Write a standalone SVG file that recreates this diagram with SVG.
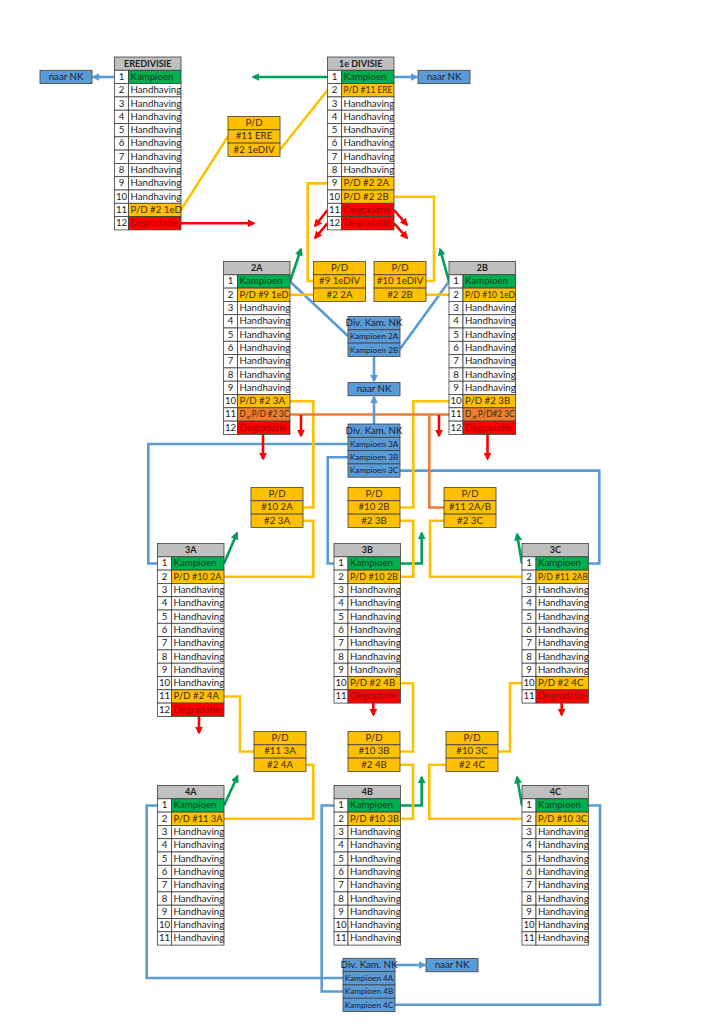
<svg xmlns="http://www.w3.org/2000/svg" width="724" height="1024" viewBox="0 0 724 1024">
<defs>
<style>
.n,.w,.h,.g,.y,.r,.o,.b{stroke:#404040;stroke-width:.8}
.n,.w{fill:#fff}.h{fill:#bfbfbf}.g{fill:#00b050}.y{fill:#ffc000}.r{fill:#ff0000}.o{fill:#ed7d31}.b{fill:#5b9bd5}
text{font-family:Lato,"Liberation Sans",sans-serif;font-size:9.7px;fill:#222}
.c{text-anchor:middle}
.hb{font-weight:bold;text-anchor:middle;font-size:9px}
.kg{fill:#0a3d1c}.kr{fill:#a00000}.ky{fill:#3a2c00}.bt{fill:#14213a;text-anchor:middle}
.sm{font-size:8.2px}
.l{fill:none;stroke-width:2.6}
.ly{stroke:#ffc000}.lb{stroke:#5b9bd5}.lg{stroke:#00a05a}.lr{stroke:#ff0000}.lo{stroke:#ed7d31}
</style>
<marker id="ag" viewBox="0 0 10 10" refX="8" refY="5" markerWidth="8" markerHeight="8" markerUnits="userSpaceOnUse" orient="auto"><path d="M0,0L10,5L0,10z" fill="#00a05a"/></marker>
<marker id="ab" viewBox="0 0 10 10" refX="8" refY="5" markerWidth="8" markerHeight="8" markerUnits="userSpaceOnUse" orient="auto"><path d="M0,0L10,5L0,10z" fill="#5b9bd5"/></marker>
<marker id="ar" viewBox="0 0 10 10" refX="8" refY="5" markerWidth="8" markerHeight="8" markerUnits="userSpaceOnUse" orient="auto"><path d="M0,0L10,5L0,10z" fill="#ff0000"/></marker>
</defs>
<rect width="724" height="1024" fill="#fff"/>

<g id="connectors">
<g class="l lb">
<path d="M114.5,77H93" marker-end="url(#ab)"/>
<path d="M394,77H417" marker-end="url(#ab)"/>
<path d="M290,281.5L348,336"/>
<path d="M449,281.5L400,349"/>
<path d="M374,356.4V381" marker-end="url(#ab)"/>
<path d="M348,444H148.3V563.5H157.5"/>
<path d="M348,457.3H327.7V563.5H334"/>
<path d="M400,470.6H599.3V563.5H588.5"/>
<path d="M157.5,805.5H146.7V978H343"/>
<path d="M334,805.5H321.7V991.5H343"/>
<path d="M395,1004.8H600V805.5H588.5"/>
<path d="M395,965H425" marker-end="url(#ab)"/>
</g>
<g class="l lg">
<path d="M327.5,77H253" marker-end="url(#ag)"/>
<path d="M290,281.5L301,249" marker-end="url(#ag)"/>
<path d="M449,281.5L440,249" marker-end="url(#ag)"/>
<path d="M224,563.5L237,533" marker-end="url(#ag)"/>
<path d="M400.5,563.5H421.7V533" marker-end="url(#ag)"/>
<path d="M522,563.5L517,534" marker-end="url(#ag)"/>
<path d="M224,805.5L237.5,776" marker-end="url(#ag)"/>
<path d="M400.5,805.5H421.7V777" marker-end="url(#ag)"/>
<path d="M522,805.5L517,777" marker-end="url(#ag)"/>
</g>
<g class="l ly">
<path d="M181,209.9L228,136.5"/>
<path d="M280,149.8L327.5,90.3"/>
<path d="M327.5,183.4H307.7V281H313.5"/>
<path d="M290,294.8H313.5"/>
<path d="M394,196.7H434V281H426"/>
<path d="M426,294.8H449"/>
<path d="M290,401.2H313.3V507.5H303.5"/>
<path d="M303.5,520.8H313.3V576.8H224"/>
<path d="M449,401.2H413.3V507.5H400"/>
<path d="M400,520.8H413.3V576.8H400.5"/>
<path d="M522,576.8H430V520.8H444"/>
<path d="M224,696.5H240V751.5H254"/>
<path d="M306,764.8H313.3V818.8H224"/>
<path d="M400.5,683.2H413V751.5H400"/>
<path d="M400,764.8H413V818.8H400.5"/>
<path d="M522,683.2H510V751.5H498"/>
<path d="M446,764.8H429.3V818.8H522"/>
</g>
<g class="l lo">
<path d="M290,414.5H449"/>
<path d="M429.3,414.5V507.5H444"/>
</g>
<g class="l lr">
<path d="M374,424V397" class="l lb" marker-end="url(#ab)"/>
<path d="M181,223.2H254" marker-end="url(#ar)"/>
<path d="M327.5,210L315,226" marker-end="url(#ar)"/>
<path d="M327.5,223.3L315,238" marker-end="url(#ar)"/>
<path d="M394,210L407,225" marker-end="url(#ar)"/>
<path d="M394,223.3L407,238" marker-end="url(#ar)"/>
<path d="M263,434.4V459" marker-end="url(#ar)"/>
<path d="M487.5,434.4V459" marker-end="url(#ar)"/>
<path d="M301,415V436" marker-end="url(#ar)"/>
<path d="M439,415V436" marker-end="url(#ar)"/>
<path d="M199,716.4V733" marker-end="url(#ar)"/>
<path d="M373.3,703.1V715" marker-end="url(#ar)"/>
<path d="M561.7,703.1V715" marker-end="url(#ar)"/>
</g>
</g>

<g id="eredivisie" transform="translate(114.5,57)">
<rect class="h" width="66.5" height="13.3"/><text class="hb" x="33.25" y="9.6">EREDIVISIE</text>
<rect class="n" y="13.3" width="14" height="13.3"/><rect class="g" x="14" y="13.3" width="52.5" height="13.3"/><text class="c" x="7" y="22.9">1</text><text class="kg" x="16" y="22.9">Kampioen</text>
<rect class="n" y="26.6" width="14" height="13.3"/><rect class="w" x="14" y="26.6" width="52.5" height="13.3"/><text class="c" x="7" y="36.2">2</text><text x="16" y="36.2">Handhaving</text>
<rect class="n" y="39.9" width="14" height="13.3"/><rect class="w" x="14" y="39.9" width="52.5" height="13.3"/><text class="c" x="7" y="49.5">3</text><text x="16" y="49.5">Handhaving</text>
<rect class="n" y="53.2" width="14" height="13.3"/><rect class="w" x="14" y="53.2" width="52.5" height="13.3"/><text class="c" x="7" y="62.8">4</text><text x="16" y="62.8">Handhaving</text>
<rect class="n" y="66.5" width="14" height="13.3"/><rect class="w" x="14" y="66.5" width="52.5" height="13.3"/><text class="c" x="7" y="76.1">5</text><text x="16" y="76.1">Handhaving</text>
<rect class="n" y="79.8" width="14" height="13.3"/><rect class="w" x="14" y="79.8" width="52.5" height="13.3"/><text class="c" x="7" y="89.4">6</text><text x="16" y="89.4">Handhaving</text>
<rect class="n" y="93.1" width="14" height="13.3"/><rect class="w" x="14" y="93.1" width="52.5" height="13.3"/><text class="c" x="7" y="102.7">7</text><text x="16" y="102.7">Handhaving</text>
<rect class="n" y="106.4" width="14" height="13.3"/><rect class="w" x="14" y="106.4" width="52.5" height="13.3"/><text class="c" x="7" y="116">8</text><text x="16" y="116">Handhaving</text>
<rect class="n" y="119.7" width="14" height="13.3"/><rect class="w" x="14" y="119.7" width="52.5" height="13.3"/><text class="c" x="7" y="129.3">9</text><text x="16" y="129.3">Handhaving</text>
<rect class="n" y="133" width="14" height="13.3"/><rect class="w" x="14" y="133" width="52.5" height="13.3"/><text class="c" x="7" y="142.6">10</text><text x="16" y="142.6">Handhaving</text>
<rect class="n" y="146.3" width="14" height="13.3"/><rect class="y" x="14" y="146.3" width="52.5" height="13.3"/><text class="c" x="7" y="155.9">11</text><text class="ky" x="16" y="155.9">P/D #2 1eD</text>
<rect class="n" y="159.6" width="14" height="13.3"/><rect class="r" x="14" y="159.6" width="52.5" height="13.3"/><text class="c" x="7" y="169.2">12</text><text class="kr" x="16" y="169.2">Degradatie</text>
</g>

<g id="eerste-divisie" transform="translate(327.5,57)">
<rect class="h" width="66.5" height="13.3"/><text class="hb" x="33.25" y="9.6">1e DIVISIE</text>
<rect class="n" y="13.3" width="14" height="13.3"/><rect class="g" x="14" y="13.3" width="52.5" height="13.3"/><text class="c" x="7" y="22.9">1</text><text class="kg" x="16" y="22.9">Kampioen</text>
<rect class="n" y="26.6" width="14" height="13.3"/><rect class="y" x="14" y="26.6" width="52.5" height="13.3"/><text class="c" x="7" y="36.2">2</text><text class="ky" x="16" y="36.2" textLength="49" lengthAdjust="spacingAndGlyphs">P/D #11 ERE</text>
<rect class="n" y="39.9" width="14" height="13.3"/><rect class="w" x="14" y="39.9" width="52.5" height="13.3"/><text class="c" x="7" y="49.5">3</text><text x="16" y="49.5">Handhaving</text>
<rect class="n" y="53.2" width="14" height="13.3"/><rect class="w" x="14" y="53.2" width="52.5" height="13.3"/><text class="c" x="7" y="62.8">4</text><text x="16" y="62.8">Handhaving</text>
<rect class="n" y="66.5" width="14" height="13.3"/><rect class="w" x="14" y="66.5" width="52.5" height="13.3"/><text class="c" x="7" y="76.1">5</text><text x="16" y="76.1">Handhaving</text>
<rect class="n" y="79.8" width="14" height="13.3"/><rect class="w" x="14" y="79.8" width="52.5" height="13.3"/><text class="c" x="7" y="89.4">6</text><text x="16" y="89.4">Handhaving</text>
<rect class="n" y="93.1" width="14" height="13.3"/><rect class="w" x="14" y="93.1" width="52.5" height="13.3"/><text class="c" x="7" y="102.7">7</text><text x="16" y="102.7">Handhaving</text>
<rect class="n" y="106.4" width="14" height="13.3"/><rect class="w" x="14" y="106.4" width="52.5" height="13.3"/><text class="c" x="7" y="116">8</text><text x="16" y="116">Handhaving</text>
<rect class="n" y="119.7" width="14" height="13.3"/><rect class="y" x="14" y="119.7" width="52.5" height="13.3"/><text class="c" x="7" y="129.3">9</text><text class="ky" x="16" y="129.3">P/D #2 2A</text>
<rect class="n" y="133" width="14" height="13.3"/><rect class="y" x="14" y="133" width="52.5" height="13.3"/><text class="c" x="7" y="142.6">10</text><text class="ky" x="16" y="142.6">P/D #2 2B</text>
<rect class="n" y="146.3" width="14" height="13.3"/><rect class="r" x="14" y="146.3" width="52.5" height="13.3"/><text class="c" x="7" y="155.9">11</text><text class="kr" x="16" y="155.9">Degradatie</text>
<rect class="n" y="159.6" width="14" height="13.3"/><rect class="r" x="14" y="159.6" width="52.5" height="13.3"/><text class="c" x="7" y="169.2">12</text><text class="kr" x="16" y="169.2">Degradatie</text>
</g>

<g id="div-2a" transform="translate(223.5,261.5)">
<rect class="h" width="66.5" height="13.3"/><text class="hb" x="33.25" y="9.6">2A</text>
<rect class="n" y="13.3" width="14" height="13.3"/><rect class="g" x="14" y="13.3" width="52.5" height="13.3"/><text class="c" x="7" y="22.9">1</text><text class="kg" x="16" y="22.9">Kampioen</text>
<rect class="n" y="26.6" width="14" height="13.3"/><rect class="y" x="14" y="26.6" width="52.5" height="13.3"/><text class="c" x="7" y="36.2">2</text><text class="ky" x="16" y="36.2" textLength="49" lengthAdjust="spacingAndGlyphs">P/D #9 1eD</text>
<rect class="n" y="39.9" width="14" height="13.3"/><rect class="w" x="14" y="39.9" width="52.5" height="13.3"/><text class="c" x="7" y="49.5">3</text><text x="16" y="49.5">Handhaving</text>
<rect class="n" y="53.2" width="14" height="13.3"/><rect class="w" x="14" y="53.2" width="52.5" height="13.3"/><text class="c" x="7" y="62.8">4</text><text x="16" y="62.8">Handhaving</text>
<rect class="n" y="66.5" width="14" height="13.3"/><rect class="w" x="14" y="66.5" width="52.5" height="13.3"/><text class="c" x="7" y="76.1">5</text><text x="16" y="76.1">Handhaving</text>
<rect class="n" y="79.8" width="14" height="13.3"/><rect class="w" x="14" y="79.8" width="52.5" height="13.3"/><text class="c" x="7" y="89.4">6</text><text x="16" y="89.4">Handhaving</text>
<rect class="n" y="93.1" width="14" height="13.3"/><rect class="w" x="14" y="93.1" width="52.5" height="13.3"/><text class="c" x="7" y="102.7">7</text><text x="16" y="102.7">Handhaving</text>
<rect class="n" y="106.4" width="14" height="13.3"/><rect class="w" x="14" y="106.4" width="52.5" height="13.3"/><text class="c" x="7" y="116">8</text><text x="16" y="116">Handhaving</text>
<rect class="n" y="119.7" width="14" height="13.3"/><rect class="w" x="14" y="119.7" width="52.5" height="13.3"/><text class="c" x="7" y="129.3">9</text><text x="16" y="129.3">Handhaving</text>
<rect class="n" y="133" width="14" height="13.3"/><rect class="y" x="14" y="133" width="52.5" height="13.3"/><text class="c" x="7" y="142.6">10</text><text class="ky" x="16" y="142.6">P/D #2 3A</text>
<rect class="n" y="146.3" width="14" height="13.3"/><rect class="o" x="14" y="146.3" width="52.5" height="13.3"/><text class="c" x="7" y="155.9">11</text><text class="ky" x="16" y="155.9" textLength="49.5" lengthAdjust="spacingAndGlyphs">D<tspan font-size="5.5px" dy="1.5"> of </tspan><tspan dy="-1.5">P/D #2 3C</tspan></text>
<rect class="n" y="159.6" width="14" height="13.3"/><rect class="r" x="14" y="159.6" width="52.5" height="13.3"/><text class="c" x="7" y="169.2">12</text><text class="kr" x="16" y="169.2">Degradatie</text>
</g>

<g id="div-2b" transform="translate(449,261.5)">
<rect class="h" width="66.5" height="13.3"/><text class="hb" x="33.25" y="9.6">2B</text>
<rect class="n" y="13.3" width="14" height="13.3"/><rect class="g" x="14" y="13.3" width="52.5" height="13.3"/><text class="c" x="7" y="22.9">1</text><text class="kg" x="16" y="22.9">Kampioen</text>
<rect class="n" y="26.6" width="14" height="13.3"/><rect class="y" x="14" y="26.6" width="52.5" height="13.3"/><text class="c" x="7" y="36.2">2</text><text class="ky" x="16" y="36.2" textLength="50" lengthAdjust="spacingAndGlyphs">P/D #10 1eD</text>
<rect class="n" y="39.9" width="14" height="13.3"/><rect class="w" x="14" y="39.9" width="52.5" height="13.3"/><text class="c" x="7" y="49.5">3</text><text x="16" y="49.5">Handhaving</text>
<rect class="n" y="53.2" width="14" height="13.3"/><rect class="w" x="14" y="53.2" width="52.5" height="13.3"/><text class="c" x="7" y="62.8">4</text><text x="16" y="62.8">Handhaving</text>
<rect class="n" y="66.5" width="14" height="13.3"/><rect class="w" x="14" y="66.5" width="52.5" height="13.3"/><text class="c" x="7" y="76.1">5</text><text x="16" y="76.1">Handhaving</text>
<rect class="n" y="79.8" width="14" height="13.3"/><rect class="w" x="14" y="79.8" width="52.5" height="13.3"/><text class="c" x="7" y="89.4">6</text><text x="16" y="89.4">Handhaving</text>
<rect class="n" y="93.1" width="14" height="13.3"/><rect class="w" x="14" y="93.1" width="52.5" height="13.3"/><text class="c" x="7" y="102.7">7</text><text x="16" y="102.7">Handhaving</text>
<rect class="n" y="106.4" width="14" height="13.3"/><rect class="w" x="14" y="106.4" width="52.5" height="13.3"/><text class="c" x="7" y="116">8</text><text x="16" y="116">Handhaving</text>
<rect class="n" y="119.7" width="14" height="13.3"/><rect class="w" x="14" y="119.7" width="52.5" height="13.3"/><text class="c" x="7" y="129.3">9</text><text x="16" y="129.3">Handhaving</text>
<rect class="n" y="133" width="14" height="13.3"/><rect class="y" x="14" y="133" width="52.5" height="13.3"/><text class="c" x="7" y="142.6">10</text><text class="ky" x="16" y="142.6">P/D #2 3B</text>
<rect class="n" y="146.3" width="14" height="13.3"/><rect class="o" x="14" y="146.3" width="52.5" height="13.3"/><text class="c" x="7" y="155.9">11</text><text class="ky" x="16" y="155.9" textLength="49.5" lengthAdjust="spacingAndGlyphs">D<tspan font-size="5.5px" dy="1.5"> of </tspan><tspan dy="-1.5">P/D#2 3C</tspan></text>
<rect class="n" y="159.6" width="14" height="13.3"/><rect class="r" x="14" y="159.6" width="52.5" height="13.3"/><text class="c" x="7" y="169.2">12</text><text class="kr" x="16" y="169.2">Degradatie</text>
</g>

<g id="div-3a" transform="translate(157.5,543.5)">
<rect class="h" width="66.5" height="13.3"/><text class="hb" x="33.25" y="9.6">3A</text>
<rect class="n" y="13.3" width="14" height="13.3"/><rect class="g" x="14" y="13.3" width="52.5" height="13.3"/><text class="c" x="7" y="22.9">1</text><text class="kg" x="16" y="22.9">Kampioen</text>
<rect class="n" y="26.6" width="14" height="13.3"/><rect class="y" x="14" y="26.6" width="52.5" height="13.3"/><text class="c" x="7" y="36.2">2</text><text class="ky" x="16" y="36.2" textLength="48" lengthAdjust="spacingAndGlyphs">P/D #10 2A</text>
<rect class="n" y="39.9" width="14" height="13.3"/><rect class="w" x="14" y="39.9" width="52.5" height="13.3"/><text class="c" x="7" y="49.5">3</text><text x="16" y="49.5">Handhaving</text>
<rect class="n" y="53.2" width="14" height="13.3"/><rect class="w" x="14" y="53.2" width="52.5" height="13.3"/><text class="c" x="7" y="62.8">4</text><text x="16" y="62.8">Handhaving</text>
<rect class="n" y="66.5" width="14" height="13.3"/><rect class="w" x="14" y="66.5" width="52.5" height="13.3"/><text class="c" x="7" y="76.1">5</text><text x="16" y="76.1">Handhaving</text>
<rect class="n" y="79.8" width="14" height="13.3"/><rect class="w" x="14" y="79.8" width="52.5" height="13.3"/><text class="c" x="7" y="89.4">6</text><text x="16" y="89.4">Handhaving</text>
<rect class="n" y="93.1" width="14" height="13.3"/><rect class="w" x="14" y="93.1" width="52.5" height="13.3"/><text class="c" x="7" y="102.7">7</text><text x="16" y="102.7">Handhaving</text>
<rect class="n" y="106.4" width="14" height="13.3"/><rect class="w" x="14" y="106.4" width="52.5" height="13.3"/><text class="c" x="7" y="116">8</text><text x="16" y="116">Handhaving</text>
<rect class="n" y="119.7" width="14" height="13.3"/><rect class="w" x="14" y="119.7" width="52.5" height="13.3"/><text class="c" x="7" y="129.3">9</text><text x="16" y="129.3">Handhaving</text>
<rect class="n" y="133" width="14" height="13.3"/><rect class="w" x="14" y="133" width="52.5" height="13.3"/><text class="c" x="7" y="142.6">10</text><text x="16" y="142.6">Handhaving</text>
<rect class="n" y="146.3" width="14" height="13.3"/><rect class="y" x="14" y="146.3" width="52.5" height="13.3"/><text class="c" x="7" y="155.9">11</text><text class="ky" x="16" y="155.9">P/D #2 4A</text>
<rect class="n" y="159.6" width="14" height="13.3"/><rect class="r" x="14" y="159.6" width="52.5" height="13.3"/><text class="c" x="7" y="169.2">12</text><text class="kr" x="16" y="169.2">Degradatie</text>
</g>

<g id="div-3b" transform="translate(334,543.5)">
<rect class="h" width="66.5" height="13.3"/><text class="hb" x="33.25" y="9.6">3B</text>
<rect class="n" y="13.3" width="14" height="13.3"/><rect class="g" x="14" y="13.3" width="52.5" height="13.3"/><text class="c" x="7" y="22.9">1</text><text class="kg" x="16" y="22.9">Kampioen</text>
<rect class="n" y="26.6" width="14" height="13.3"/><rect class="y" x="14" y="26.6" width="52.5" height="13.3"/><text class="c" x="7" y="36.2">2</text><text class="ky" x="16" y="36.2" textLength="48" lengthAdjust="spacingAndGlyphs">P/D #10 2B</text>
<rect class="n" y="39.9" width="14" height="13.3"/><rect class="w" x="14" y="39.9" width="52.5" height="13.3"/><text class="c" x="7" y="49.5">3</text><text x="16" y="49.5">Handhaving</text>
<rect class="n" y="53.2" width="14" height="13.3"/><rect class="w" x="14" y="53.2" width="52.5" height="13.3"/><text class="c" x="7" y="62.8">4</text><text x="16" y="62.8">Handhaving</text>
<rect class="n" y="66.5" width="14" height="13.3"/><rect class="w" x="14" y="66.5" width="52.5" height="13.3"/><text class="c" x="7" y="76.1">5</text><text x="16" y="76.1">Handhaving</text>
<rect class="n" y="79.8" width="14" height="13.3"/><rect class="w" x="14" y="79.8" width="52.5" height="13.3"/><text class="c" x="7" y="89.4">6</text><text x="16" y="89.4">Handhaving</text>
<rect class="n" y="93.1" width="14" height="13.3"/><rect class="w" x="14" y="93.1" width="52.5" height="13.3"/><text class="c" x="7" y="102.7">7</text><text x="16" y="102.7">Handhaving</text>
<rect class="n" y="106.4" width="14" height="13.3"/><rect class="w" x="14" y="106.4" width="52.5" height="13.3"/><text class="c" x="7" y="116">8</text><text x="16" y="116">Handhaving</text>
<rect class="n" y="119.7" width="14" height="13.3"/><rect class="w" x="14" y="119.7" width="52.5" height="13.3"/><text class="c" x="7" y="129.3">9</text><text x="16" y="129.3">Handhaving</text>
<rect class="n" y="133" width="14" height="13.3"/><rect class="y" x="14" y="133" width="52.5" height="13.3"/><text class="c" x="7" y="142.6">10</text><text class="ky" x="16" y="142.6">P/D #2 4B</text>
<rect class="n" y="146.3" width="14" height="13.3"/><rect class="r" x="14" y="146.3" width="52.5" height="13.3"/><text class="c" x="7" y="155.9">11</text><text class="kr" x="16" y="155.9">Degradatie</text>
</g>

<g id="div-3c" transform="translate(522,543.5)">
<rect class="h" width="66.5" height="13.3"/><text class="hb" x="33.25" y="9.6">3C</text>
<rect class="n" y="13.3" width="14" height="13.3"/><rect class="g" x="14" y="13.3" width="52.5" height="13.3"/><text class="c" x="7" y="22.9">1</text><text class="kg" x="16" y="22.9">Kampioen</text>
<rect class="n" y="26.6" width="14" height="13.3"/><rect class="y" x="14" y="26.6" width="52.5" height="13.3"/><text class="c" x="7" y="36.2">2</text><text class="ky" x="16" y="36.2" textLength="50" lengthAdjust="spacingAndGlyphs">P/D #11 2AB</text>
<rect class="n" y="39.9" width="14" height="13.3"/><rect class="w" x="14" y="39.9" width="52.5" height="13.3"/><text class="c" x="7" y="49.5">3</text><text x="16" y="49.5">Handhaving</text>
<rect class="n" y="53.2" width="14" height="13.3"/><rect class="w" x="14" y="53.2" width="52.5" height="13.3"/><text class="c" x="7" y="62.8">4</text><text x="16" y="62.8">Handhaving</text>
<rect class="n" y="66.5" width="14" height="13.3"/><rect class="w" x="14" y="66.5" width="52.5" height="13.3"/><text class="c" x="7" y="76.1">5</text><text x="16" y="76.1">Handhaving</text>
<rect class="n" y="79.8" width="14" height="13.3"/><rect class="w" x="14" y="79.8" width="52.5" height="13.3"/><text class="c" x="7" y="89.4">6</text><text x="16" y="89.4">Handhaving</text>
<rect class="n" y="93.1" width="14" height="13.3"/><rect class="w" x="14" y="93.1" width="52.5" height="13.3"/><text class="c" x="7" y="102.7">7</text><text x="16" y="102.7">Handhaving</text>
<rect class="n" y="106.4" width="14" height="13.3"/><rect class="w" x="14" y="106.4" width="52.5" height="13.3"/><text class="c" x="7" y="116">8</text><text x="16" y="116">Handhaving</text>
<rect class="n" y="119.7" width="14" height="13.3"/><rect class="w" x="14" y="119.7" width="52.5" height="13.3"/><text class="c" x="7" y="129.3">9</text><text x="16" y="129.3">Handhaving</text>
<rect class="n" y="133" width="14" height="13.3"/><rect class="y" x="14" y="133" width="52.5" height="13.3"/><text class="c" x="7" y="142.6">10</text><text class="ky" x="16" y="142.6">P/D #2 4C</text>
<rect class="n" y="146.3" width="14" height="13.3"/><rect class="r" x="14" y="146.3" width="52.5" height="13.3"/><text class="c" x="7" y="155.9">11</text><text class="kr" x="16" y="155.9">Degradatie</text>
</g>

<g id="div-4a" transform="translate(157.5,785.5)">
<rect class="h" width="66.5" height="13.3"/><text class="hb" x="33.25" y="9.6">4A</text>
<rect class="n" y="13.3" width="14" height="13.3"/><rect class="g" x="14" y="13.3" width="52.5" height="13.3"/><text class="c" x="7" y="22.9">1</text><text class="kg" x="16" y="22.9">Kampioen</text>
<rect class="n" y="26.6" width="14" height="13.3"/><rect class="y" x="14" y="26.6" width="52.5" height="13.3"/><text class="c" x="7" y="36.2">2</text><text class="ky" x="16" y="36.2" textLength="49" lengthAdjust="spacingAndGlyphs">P/D #11 3A</text>
<rect class="n" y="39.9" width="14" height="13.3"/><rect class="w" x="14" y="39.9" width="52.5" height="13.3"/><text class="c" x="7" y="49.5">3</text><text x="16" y="49.5">Handhaving</text>
<rect class="n" y="53.2" width="14" height="13.3"/><rect class="w" x="14" y="53.2" width="52.5" height="13.3"/><text class="c" x="7" y="62.8">4</text><text x="16" y="62.8">Handhaving</text>
<rect class="n" y="66.5" width="14" height="13.3"/><rect class="w" x="14" y="66.5" width="52.5" height="13.3"/><text class="c" x="7" y="76.1">5</text><text x="16" y="76.1">Handhaving</text>
<rect class="n" y="79.8" width="14" height="13.3"/><rect class="w" x="14" y="79.8" width="52.5" height="13.3"/><text class="c" x="7" y="89.4">6</text><text x="16" y="89.4">Handhaving</text>
<rect class="n" y="93.1" width="14" height="13.3"/><rect class="w" x="14" y="93.1" width="52.5" height="13.3"/><text class="c" x="7" y="102.7">7</text><text x="16" y="102.7">Handhaving</text>
<rect class="n" y="106.4" width="14" height="13.3"/><rect class="w" x="14" y="106.4" width="52.5" height="13.3"/><text class="c" x="7" y="116">8</text><text x="16" y="116">Handhaving</text>
<rect class="n" y="119.7" width="14" height="13.3"/><rect class="w" x="14" y="119.7" width="52.5" height="13.3"/><text class="c" x="7" y="129.3">9</text><text x="16" y="129.3">Handhaving</text>
<rect class="n" y="133" width="14" height="13.3"/><rect class="w" x="14" y="133" width="52.5" height="13.3"/><text class="c" x="7" y="142.6">10</text><text x="16" y="142.6">Handhaving</text>
<rect class="n" y="146.3" width="14" height="13.3"/><rect class="w" x="14" y="146.3" width="52.5" height="13.3"/><text class="c" x="7" y="155.9">11</text><text x="16" y="155.9">Handhaving</text>
</g>

<g id="div-4b" transform="translate(334,785.5)">
<rect class="h" width="66.5" height="13.3"/><text class="hb" x="33.25" y="9.6">4B</text>
<rect class="n" y="13.3" width="14" height="13.3"/><rect class="g" x="14" y="13.3" width="52.5" height="13.3"/><text class="c" x="7" y="22.9">1</text><text class="kg" x="16" y="22.9">Kampioen</text>
<rect class="n" y="26.6" width="14" height="13.3"/><rect class="y" x="14" y="26.6" width="52.5" height="13.3"/><text class="c" x="7" y="36.2">2</text><text class="ky" x="16" y="36.2" textLength="49" lengthAdjust="spacingAndGlyphs">P/D #10 3B</text>
<rect class="n" y="39.9" width="14" height="13.3"/><rect class="w" x="14" y="39.9" width="52.5" height="13.3"/><text class="c" x="7" y="49.5">3</text><text x="16" y="49.5">Handhaving</text>
<rect class="n" y="53.2" width="14" height="13.3"/><rect class="w" x="14" y="53.2" width="52.5" height="13.3"/><text class="c" x="7" y="62.8">4</text><text x="16" y="62.8">Handhaving</text>
<rect class="n" y="66.5" width="14" height="13.3"/><rect class="w" x="14" y="66.5" width="52.5" height="13.3"/><text class="c" x="7" y="76.1">5</text><text x="16" y="76.1">Handhaving</text>
<rect class="n" y="79.8" width="14" height="13.3"/><rect class="w" x="14" y="79.8" width="52.5" height="13.3"/><text class="c" x="7" y="89.4">6</text><text x="16" y="89.4">Handhaving</text>
<rect class="n" y="93.1" width="14" height="13.3"/><rect class="w" x="14" y="93.1" width="52.5" height="13.3"/><text class="c" x="7" y="102.7">7</text><text x="16" y="102.7">Handhaving</text>
<rect class="n" y="106.4" width="14" height="13.3"/><rect class="w" x="14" y="106.4" width="52.5" height="13.3"/><text class="c" x="7" y="116">8</text><text x="16" y="116">Handhaving</text>
<rect class="n" y="119.7" width="14" height="13.3"/><rect class="w" x="14" y="119.7" width="52.5" height="13.3"/><text class="c" x="7" y="129.3">9</text><text x="16" y="129.3">Handhaving</text>
<rect class="n" y="133" width="14" height="13.3"/><rect class="w" x="14" y="133" width="52.5" height="13.3"/><text class="c" x="7" y="142.6">10</text><text x="16" y="142.6">Handhaving</text>
<rect class="n" y="146.3" width="14" height="13.3"/><rect class="w" x="14" y="146.3" width="52.5" height="13.3"/><text class="c" x="7" y="155.9">11</text><text x="16" y="155.9">Handhaving</text>
</g>

<g id="div-4c" transform="translate(522,785.5)">
<rect class="h" width="66.5" height="13.3"/><text class="hb" x="33.25" y="9.6">4C</text>
<rect class="n" y="13.3" width="14" height="13.3"/><rect class="g" x="14" y="13.3" width="52.5" height="13.3"/><text class="c" x="7" y="22.9">1</text><text class="kg" x="16" y="22.9">Kampioen</text>
<rect class="n" y="26.6" width="14" height="13.3"/><rect class="y" x="14" y="26.6" width="52.5" height="13.3"/><text class="c" x="7" y="36.2">2</text><text class="ky" x="16" y="36.2" textLength="49" lengthAdjust="spacingAndGlyphs">P/D #10 3C</text>
<rect class="n" y="39.9" width="14" height="13.3"/><rect class="w" x="14" y="39.9" width="52.5" height="13.3"/><text class="c" x="7" y="49.5">3</text><text x="16" y="49.5">Handhaving</text>
<rect class="n" y="53.2" width="14" height="13.3"/><rect class="w" x="14" y="53.2" width="52.5" height="13.3"/><text class="c" x="7" y="62.8">4</text><text x="16" y="62.8">Handhaving</text>
<rect class="n" y="66.5" width="14" height="13.3"/><rect class="w" x="14" y="66.5" width="52.5" height="13.3"/><text class="c" x="7" y="76.1">5</text><text x="16" y="76.1">Handhaving</text>
<rect class="n" y="79.8" width="14" height="13.3"/><rect class="w" x="14" y="79.8" width="52.5" height="13.3"/><text class="c" x="7" y="89.4">6</text><text x="16" y="89.4">Handhaving</text>
<rect class="n" y="93.1" width="14" height="13.3"/><rect class="w" x="14" y="93.1" width="52.5" height="13.3"/><text class="c" x="7" y="102.7">7</text><text x="16" y="102.7">Handhaving</text>
<rect class="n" y="106.4" width="14" height="13.3"/><rect class="w" x="14" y="106.4" width="52.5" height="13.3"/><text class="c" x="7" y="116">8</text><text x="16" y="116">Handhaving</text>
<rect class="n" y="119.7" width="14" height="13.3"/><rect class="w" x="14" y="119.7" width="52.5" height="13.3"/><text class="c" x="7" y="129.3">9</text><text x="16" y="129.3">Handhaving</text>
<rect class="n" y="133" width="14" height="13.3"/><rect class="w" x="14" y="133" width="52.5" height="13.3"/><text class="c" x="7" y="142.6">10</text><text x="16" y="142.6">Handhaving</text>
<rect class="n" y="146.3" width="14" height="13.3"/><rect class="w" x="14" y="146.3" width="52.5" height="13.3"/><text class="c" x="7" y="155.9">11</text><text x="16" y="155.9">Handhaving</text>
</g>

<g id="pd-ere-1ediv" transform="translate(228,116.5)">
<rect class="y" width="52" height="13.3"/><rect class="y" y="13.3" width="52" height="13.3"/><rect class="y" y="26.6" width="52" height="13.3"/>
<text class="ky c" x="26" y="9.6">P/D</text><text class="ky c" x="26" y="22.9">#11 ERE</text><text class="ky c" x="26" y="36.2">#2 1eDIV</text>
</g>
<g id="pd-1ediv-2a" transform="translate(313.5,261.5)">
<rect class="y" width="52" height="13.3"/><rect class="y" y="13.3" width="52" height="13.3"/><rect class="y" y="26.6" width="52" height="13.3"/>
<text class="ky c" x="26" y="9.6">P/D</text><text class="ky c" x="26" y="22.9">#9 1eDIV</text><text class="ky c" x="26" y="36.2">#2 2A</text>
</g>
<g id="pd-1ediv-2b" transform="translate(374,261.5)">
<rect class="y" width="52" height="13.3"/><rect class="y" y="13.3" width="52" height="13.3"/><rect class="y" y="26.6" width="52" height="13.3"/>
<text class="ky c" x="26" y="9.6">P/D</text><text class="ky c" x="26" y="22.9">#10 1eDIV</text><text class="ky c" x="26" y="36.2">#2 2B</text>
</g>
<g id="pd-2a-3a" transform="translate(251,487.5)">
<rect class="y" width="52" height="13.3"/><rect class="y" y="13.3" width="52" height="13.3"/><rect class="y" y="26.6" width="52" height="13.3"/>
<text class="ky c" x="26" y="9.6">P/D</text><text class="ky c" x="26" y="22.9">#10 2A</text><text class="ky c" x="26" y="36.2">#2 3A</text>
</g>
<g id="pd-2b-3b" transform="translate(348,487.5)">
<rect class="y" width="52" height="13.3"/><rect class="y" y="13.3" width="52" height="13.3"/><rect class="y" y="26.6" width="52" height="13.3"/>
<text class="ky c" x="26" y="9.6">P/D</text><text class="ky c" x="26" y="22.9">#10 2B</text><text class="ky c" x="26" y="36.2">#2 3B</text>
</g>
<g id="pd-2ab-3c" transform="translate(444,487.5)">
<rect class="y" width="52" height="13.3"/><rect class="y" y="13.3" width="52" height="13.3"/><rect class="y" y="26.6" width="52" height="13.3"/>
<text class="ky c" x="26" y="9.6">P/D</text><text class="ky c" x="26" y="22.9">#11 2A/B</text><text class="ky c" x="26" y="36.2">#2 3C</text>
</g>
<g id="pd-3a-4a" transform="translate(254,731.5)">
<rect class="y" width="52" height="13.3"/><rect class="y" y="13.3" width="52" height="13.3"/><rect class="y" y="26.6" width="52" height="13.3"/>
<text class="ky c" x="26" y="9.6">P/D</text><text class="ky c" x="26" y="22.9">#11 3A</text><text class="ky c" x="26" y="36.2">#2 4A</text>
</g>
<g id="pd-3b-4b" transform="translate(348,731.5)">
<rect class="y" width="52" height="13.3"/><rect class="y" y="13.3" width="52" height="13.3"/><rect class="y" y="26.6" width="52" height="13.3"/>
<text class="ky c" x="26" y="9.6">P/D</text><text class="ky c" x="26" y="22.9">#10 3B</text><text class="ky c" x="26" y="36.2">#2 4B</text>
</g>
<g id="pd-3c-4c" transform="translate(446,731.5)">
<rect class="y" width="52" height="13.3"/><rect class="y" y="13.3" width="52" height="13.3"/><rect class="y" y="26.6" width="52" height="13.3"/>
<text class="ky c" x="26" y="9.6">P/D</text><text class="ky c" x="26" y="22.9">#10 3C</text><text class="ky c" x="26" y="36.2">#2 4C</text>
</g>

<g id="nk-ere" transform="translate(40,70.3)"><rect class="b" width="52" height="13.3"/><text class="bt" x="26" y="9.6">naar NK</text></g>
<g id="nk-1ediv" transform="translate(418,70.3)"><rect class="b" width="52" height="13.3"/><text class="bt" x="26" y="9.6">naar NK</text></g>
<g id="divkam-2" transform="translate(348,316.5)">
<rect class="b" width="52" height="13.3"/><rect class="b" y="13.3" width="52" height="13.3"/><rect class="b" y="26.6" width="52" height="13.3"/>
<text class="bt" x="26" y="9.6" font-size="9px">Div. Kam. NK</text><text class="bt sm" x="26" y="22.7">Kampioen 2A</text><text class="bt sm" x="26" y="36">Kampioen 2B</text>
</g>
<g id="nk-mid" transform="translate(348,382.5)"><rect class="b" width="52" height="13.3"/><text class="bt" x="26" y="9.6">naar NK</text></g>
<g id="divkam-3" transform="translate(348,424)">
<rect class="b" width="52" height="13.3"/><rect class="b" y="13.3" width="52" height="13.3"/><rect class="b" y="26.6" width="52" height="13.3"/><rect class="b" y="39.9" width="52" height="13.3"/>
<text class="bt" x="26" y="9.6" font-size="9px">Div. Kam. NK</text><text class="bt sm" x="26" y="22.7">Kampioen 3A</text><text class="bt sm" x="26" y="36">Kampioen 3B</text><text class="bt sm" x="26" y="49.3">Kampioen 3C</text>
</g>
<g id="divkam-4" transform="translate(343,958.3)">
<rect class="b" width="52" height="13.3"/><rect class="b" y="13.3" width="52" height="13.3"/><rect class="b" y="26.6" width="52" height="13.3"/><rect class="b" y="39.9" width="52" height="13.3"/>
<text class="bt" x="26" y="9.6" font-size="9px">Div. Kam. NK</text><text class="bt sm" x="26" y="22.7">Kampioen 4A</text><text class="bt sm" x="26" y="36">Kampioen 4B</text><text class="bt sm" x="26" y="49.3">Kampioen 4C</text>
</g>
<g id="nk-bottom" transform="translate(426,958.5)"><rect class="b" width="52" height="13.3"/><text class="bt" x="26" y="9.6">naar NK</text></g>
</svg>
